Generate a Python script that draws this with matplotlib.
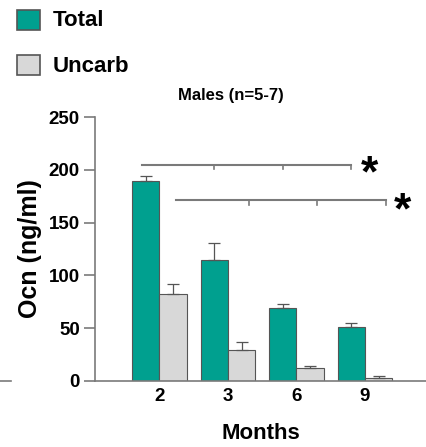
import matplotlib.pyplot as plt
from matplotlib.patches import Rectangle
import numpy as np

plt.rcParams['font.family'] = ['Liberation Sans', 'DejaVu Sans']
plt.rcParams['font.weight'] = 'bold'

# data
months = ['2', '3', '6', '9']
total = [189, 115, 69, 51]
total_err = [5, 16, 4, 4]
uncarb = [82, 29, 12, 3]
uncarb_err = [10, 8, 2, 1.5]
series = ['Total', 'Uncarb']

teal = '#00a08f'
grey = '#d8d8d8'
edge = '#555555'
axcol = '#7a7a7a'

W, H = 426, 447
fig = plt.figure(figsize=(W / 100, H / 100), dpi=100)
ax = fig.add_axes([0.223, 0.148, 0.777, 0.59])

x = np.arange(len(months))
w = 0.4
ax.bar(x - w / 2, total, w, color=teal, edgecolor=edge, linewidth=0.8,
       yerr=[np.zeros(4), total_err], capsize=4,
       error_kw=dict(ecolor=edge, elinewidth=0.9, capthick=0.9))
ax.bar(x + w / 2, uncarb, w, color=grey, edgecolor=edge, linewidth=0.8,
       yerr=[np.zeros(4), uncarb_err], capsize=4,
       error_kw=dict(ecolor=edge, elinewidth=0.9, capthick=0.9))

ax.set_xlim(-0.94, 3.89)
ax.set_ylim(0, 250)
ax.set_yticks([0, 50, 100, 150, 200, 250])
ax.set_xticks(x)
ax.set_xticklabels(months)
ax.tick_params(axis='x', length=0, labelsize=13.5, pad=5)
ax.tick_params(axis='y', length=8, width=1.2, color=axcol, labelsize=13.5, pad=3)
for s in ['top', 'right']:
    ax.spines[s].set_visible(False)
for s in ['left', 'bottom']:
    ax.spines[s].set_color(axcol)
    ax.spines[s].set_linewidth(1.2)

ax.set_ylabel('Ocn (ng/ml)', fontsize=18, fontweight='bold', labelpad=5)
ax.set_xlabel('Months', fontsize=16, fontweight='bold', labelpad=13)
ax.set_title('Males (n=5-7)', fontsize=12, fontweight='bold', x=0.41, pad=12)

# significance brackets
def bracket(x0, xs, y, star_x, star_y):
    ax.plot([x0, xs[-1]], [y, y], color=axcol, lw=1.5, clip_on=False)
    for xt in xs:
        ax.plot([xt, xt], [y, y - 4], color=axcol, lw=1.2, clip_on=False)
    ax.text(star_x, star_y, '*', fontsize=32, fontweight='bold',
            ha='center', va='center', clip_on=False)

bracket(x[0] - w / 2 - 0.05, x[1:] - w / 2, 205, 3.07, 195)
bracket(x[0] + w / 2 + 0.04, x[1:] + w / 2 + 0.1, 171, 3.55, 160)

# legend drawn by hand, top left
for i, (name, col) in enumerate(zip(series, [teal, grey])):
    top = 10 + 45 * i
    fig.add_artist(Rectangle((17 / W, 1 - (top + 20) / H), 23 / W, 20 / H,
                             facecolor=col, edgecolor=edge, lw=1.2,
                             transform=fig.transFigure))
    fig.text(53 / W, 1 - (top + 11) / H, name, fontsize=16, fontweight='bold',
             va='center', ha='left')

# stray tick of neighbouring panel
fig.add_artist(plt.Line2D([0.0, 0.025], [0.148, 0.148], color=axcol, lw=1.2))

fig.savefig('out.png', dpi=100)
